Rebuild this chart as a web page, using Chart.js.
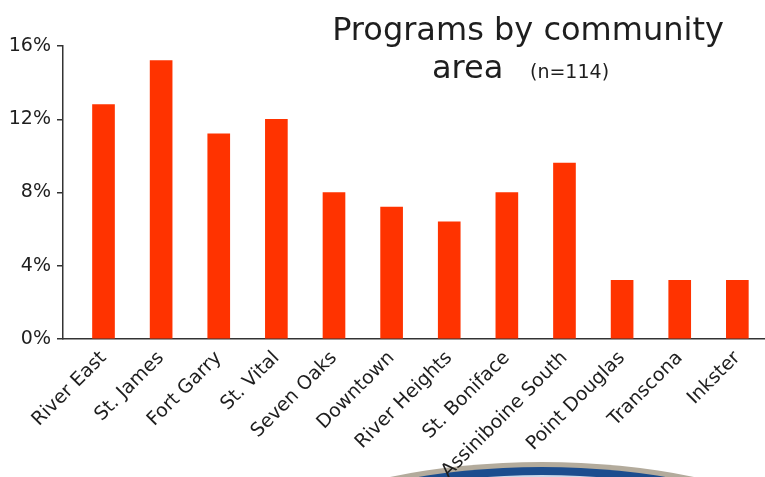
<!DOCTYPE html>
<html>
<head>
<meta charset="utf-8">
<script src="https://cdn.jsdelivr.net/npm/chart.js@4/dist/chart.umd.min.js"></script>
<style>
  html, body { margin: 0; padding: 0; background: #fff; }
  #wrap { width: 765px; height: 477px; position: relative; }
</style>
</head>
<body>
<div id="wrap"><canvas id="areaChart"></canvas></div>
<script>
const areas = ['River East', 'St. James', 'Fort Garry', 'St. Vital', 'Seven Oaks', 'Downtown',
  'River Heights', 'St. Boniface', 'Assiniboine South', 'Point Douglas', 'Transcona', 'Inkster'];
const shares = [12.8, 15.2, 11.2, 12.0, 8.0, 7.2, 6.4, 8.0, 9.6, 3.2, 3.2, 3.2];
const yMax = 16;
const yStep = 4;
const titleMain = 'Programs by community';
const titleSub = 'area';
const titleNote = '(n=114)';

const FONT = '"DejaVu Sans", sans-serif';
const INK = '#1e1e1e';

// blue swoosh at the foot of the slide, drawn under the chart
const swoosh = {
  id: 'swoosh',
  beforeDraw(chart) {
    const ctx = chart.ctx;
    ctx.save();
    const layers = [
      { dy: 0, rx: 400, color: '#b3ab9c' },
      { dy: 5, rx: 396, color: '#1c4d8e' },
      { dy: 13, rx: 385, color: '#c9d9ea' }
    ];
    layers.forEach(l => {
      ctx.beginPath();
      ctx.ellipse(542, 662 + l.dy, l.rx, 200, 0, 0, Math.PI * 2);
      ctx.fillStyle = l.color;
      ctx.fill();
    });
    ctx.restore();
  }
};

// two-line heading with the sample size in a smaller face
const heading = {
  id: 'heading',
  afterDraw(chart) {
    const ctx = chart.ctx;
    ctx.save();
    ctx.fillStyle = INK;
    ctx.textBaseline = 'alphabetic';
    ctx.textAlign = 'center';
    ctx.font = '32px ' + FONT;
    ctx.fillText(titleMain, 528, 40);
    ctx.textAlign = 'left';
    ctx.fillText(titleSub, 432, 78);
    ctx.font = '19px ' + FONT;
    ctx.fillText(titleNote, 530, 78);
    ctx.restore();
  }
};

new Chart(document.getElementById('areaChart'), {
  type: 'bar',
  data: {
    datasets: [{
      data: areas.map((a, i) => ({ x: i, y: shares[i] })),
      backgroundColor: '#ff3300',
      borderWidth: 0,
      barThickness: 22
    }]
  },
  options: {
    responsive: true,
    maintainAspectRatio: false,
    animation: false,
    devicePixelRatio: 1,
    layout: { padding: { top: 46, left: 0, right: 0, bottom: 0 } },
    plugins: {
      legend: { display: false },
      tooltip: { enabled: false }
    },
    scales: {
      x: {
        type: 'linear',
        offset: false,
        min: -0.703,
        max: 11.48,
        grid: { display: false },
        border: { color: '#333', width: 1.5 },
        ticks: {
          stepSize: 1,
          includeBounds: false,
          autoSkip: false,
          maxRotation: 45,
          minRotation: 45,
          padding: 0,
          color: INK,
          font: { family: FONT, size: 19 },
          callback: v => areas[v] ?? ''
        },
        afterFit: s => {
          s.height = 138;
          s.paddingLeft = 0;
          s.paddingRight = 0;
        }
      },
      y: {
        min: 0,
        max: yMax,
        grid: { drawOnChartArea: false, tickLength: 6, color: '#333', lineWidth: 1.5 },
        border: { color: '#333', width: 1.5 },
        ticks: {
          stepSize: yStep,
          padding: 6,
          color: INK,
          font: { family: FONT, size: 19 },
          callback: v => v + '%'
        },
        afterFit: s => { s.width = 63; }
      }
    }
  },
  plugins: [swoosh, heading]
});
</script>
</body>
</html>
